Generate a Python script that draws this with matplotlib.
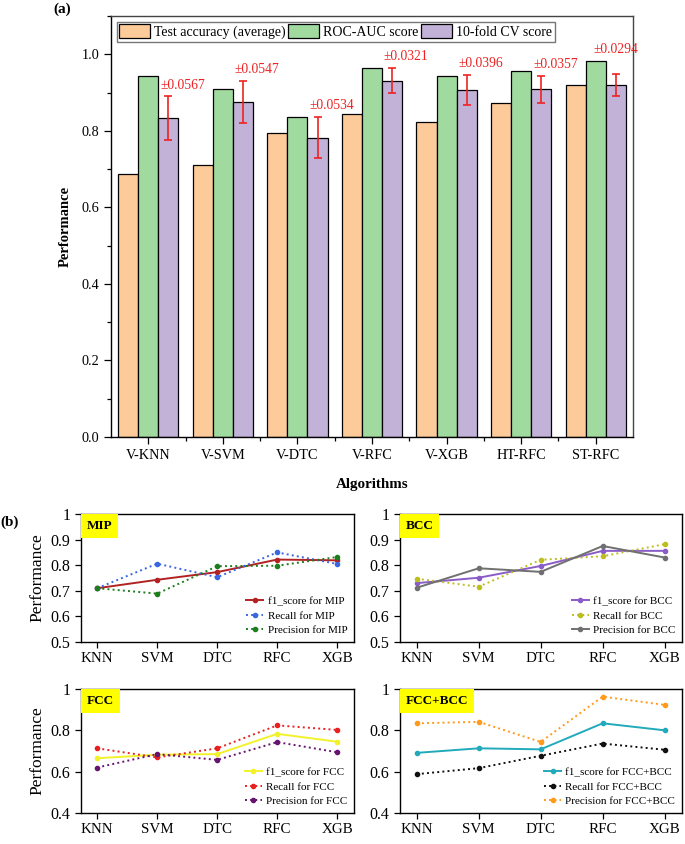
import numpy as np
import matplotlib
matplotlib.use("Agg")
import matplotlib.pyplot as plt
from matplotlib.ticker import MultipleLocator, FixedLocator

plt.rcParams['font.family'] = ['Liberation Serif', 'DejaVu Serif']

# ---- panel (a) data
algos = ["V-KNN", "V-SVM", "V-DTC", "V-RFC", "V-XGB", "HT-RFC", "ST-RFC"]
test_acc = [0.687, 0.711, 0.795, 0.844, 0.823, 0.873, 0.920]
roc_auc = [0.943, 0.910, 0.835, 0.963, 0.943, 0.956, 0.983]
cv_score = [0.833, 0.876, 0.782, 0.931, 0.906, 0.908, 0.920]
cv_err = [0.0567, 0.0547, 0.0534, 0.0321, 0.0396, 0.0357, 0.0294]

# ---- panel (b) data
models = ["KNN", "SVM", "DTC", "RFC", "XGB"]
mip_f1 = [0.710, 0.743, 0.773, 0.822, 0.819]
mip_recall = [0.710, 0.806, 0.753, 0.850, 0.805]
mip_prec = [0.710, 0.689, 0.796, 0.798, 0.832]
bcc_f1 = [0.730, 0.751, 0.797, 0.856, 0.856]
bcc_recall = [0.747, 0.716, 0.821, 0.835, 0.882]
bcc_prec = [0.712, 0.788, 0.774, 0.875, 0.830]
fcc_f1 = [0.665, 0.682, 0.685, 0.783, 0.745]
fcc_recall = [0.713, 0.669, 0.713, 0.824, 0.802]
fcc_prec = [0.620, 0.685, 0.657, 0.743, 0.694]
both_f1 = [0.691, 0.713, 0.708, 0.834, 0.800]
both_recall = [0.588, 0.617, 0.677, 0.736, 0.706]
both_prec = [0.834, 0.841, 0.744, 0.963, 0.923]

W, H = 685, 844
fig = plt.figure(figsize=(W / 100, H / 100), dpi=100)


def rect(l, t, r, b):
    return [l / W, 1 - b / H, (r - l) / W, (b - t) / H]


# ================= panel (a)
ax = fig.add_axes(rect(111, 16, 633, 437))
x = np.arange(len(algos))
bw = 0.27
ax.bar(x - bw, test_acc, bw, color="#FDCA9A", edgecolor="black", lw=0.9,
       label="Test accuracy (average)", zorder=2)
ax.bar(x, roc_auc, bw, color="#A0DA9E", edgecolor="black", lw=0.9,
       label="ROC-AUC score", zorder=2)
ax.bar(x + bw, cv_score, bw, color="#C3B2D8", edgecolor="black", lw=0.9,
       label="10-fold CV score", zorder=2)
ax.errorbar(x + bw, cv_score, yerr=cv_err, fmt="none", ecolor="#EE2222",
            elinewidth=1.2, capsize=3, capthick=1.2, zorder=3)
for i in range(len(algos)):
    top = cv_score[i] + cv_err[i]
    if i == len(algos) - 1:
        tx, ty = x[i] + bw, max(top, roc_auc[i]) + 0.03
    else:
        tx, ty = x[i] + bw + 0.19, top + 0.03
    ax.text(tx, ty, "\u00b1%.4f" % cv_err[i], color="#EE2222", fontsize=9.8,
            ha="center", va="center")

ax.set_xlim(-0.5, 6.5)
ax.set_ylim(0, 1.1)
ax.set_xticks(x)
ax.set_xticklabels(algos, fontsize=10.3)
ax.xaxis.set_minor_locator(FixedLocator(x[:-1] + 0.5))
ax.set_yticks(np.arange(0, 1.01, 0.2))
ax.set_yticklabels(["%.1f" % v for v in np.arange(0, 1.01, 0.2)], fontsize=10.3)
ax.yaxis.set_minor_locator(MultipleLocator(0.1))
ax.tick_params(which="both", direction="out", width=0.9)
ax.tick_params(which="major", length=5)
ax.tick_params(which="minor", length=3)
for s in ax.spines.values():
    s.set_linewidth(1.0)
ax.spines["top"].set_color("#444444")
ax.spines["right"].set_color("#444444")
ax.set_ylabel("Performance", fontsize=10.5, fontweight="bold", labelpad=7)
ax.set_xlabel("Algorithms", fontsize=10.8, fontweight="bold", labelpad=12)
leg = ax.legend(loc="upper left", ncol=3, fontsize=10.0, handlelength=2.2,
                handleheight=1.1, handletextpad=0.3, columnspacing=0.2,
                borderpad=0.2, borderaxespad=0.4, fancybox=False, framealpha=1)
leg.get_frame().set_edgecolor("#777777")
leg.get_frame().set_linewidth(1.0)
fig.text(62 / W, 1 - 9 / H, "(a)", fontsize=11, fontweight="bold",
         ha="center", va="center")

# ================= panel (b)
panels = [
    (rect(81, 514, 354, 642), "MIP", (0.5, 1.0), 0.1,
     [(mip_f1, "f1_score for MIP", "#B22222", "-"),
      (mip_recall, "Recall for MIP", "#3A66E0", ":"),
      (mip_prec, "Precision for MIP", "#1E7D1E", ":")]),
    (rect(400, 514, 682, 642), "BCC", (0.5, 1.0), 0.1,
     [(bcc_f1, "f1_score for BCC", "#8A5CC8", "-"),
      (bcc_recall, "Recall for BCC", "#BDBD22", ":"),
      (bcc_prec, "Precision for BCC", "#707070", "-")]),
    (rect(81, 689, 354, 813), "FCC", (0.4, 1.0), 0.2,
     [(fcc_f1, "f1_score for FCC", "#F2F22A", "-"),
      (fcc_recall, "Recall for FCC", "#E82020", ":"),
      (fcc_prec, "Precision for FCC", "#661470", ":")]),
    (rect(400, 689, 682, 813), "FCC+BCC", (0.4, 1.0), 0.2,
     [(both_f1, "f1_score for FCC+BCC", "#22AABB", "-"),
      (both_recall, "Recall for FCC+BCC", "#111111", ":"),
      (both_prec, "Precision for FCC+BCC", "#FF9A1A", ":")]),
]

xm = np.arange(len(models))
for i, (r, tag, ylim, step, series) in enumerate(panels):
    bx = fig.add_axes(r)
    for vals, lab, col, ls in series:
        bx.plot(xm, vals, ls=ls, color=col, lw=1.4, marker="o", ms=3,
                label=lab)
    bx.set_xlim(-0.27, 4.28)
    bx.set_ylim(*ylim)
    ticks = np.round(np.arange(ylim[0], ylim[1] + 0.001, step), 2)
    bx.set_yticks(ticks)
    bx.set_yticklabels(["1" if t == 1 else "%g" % t for t in ticks],
                       fontsize=11.5)
    bx.set_xticks(xm)
    bx.set_xticklabels(models, fontsize=10.8)
    bx.tick_params(direction="out", length=4, width=0.9)
    for s in bx.spines.values():
        s.set_linewidth(1.0)
    if i % 2 == 0:
        bx.set_ylabel("Performance", fontsize=12.5, labelpad=4)
    bx.text(0.02, 0.955, tag, transform=bx.transAxes, fontsize=9.5,
            fontweight="bold", ha="left", va="top",
            bbox=dict(boxstyle="square,pad=0.45", fc="#FFFF00", ec="none"))
    bx.legend(loc="lower right", fontsize=8.0, frameon=False,
              handlelength=1.5, handletextpad=0.4, labelspacing=0.45,
              borderaxespad=0.2)

fig.text(10 / W, 1 - 522 / H, "(b)", fontsize=11, fontweight="bold",
         ha="center", va="center")

fig.savefig("out.png", dpi=100)
